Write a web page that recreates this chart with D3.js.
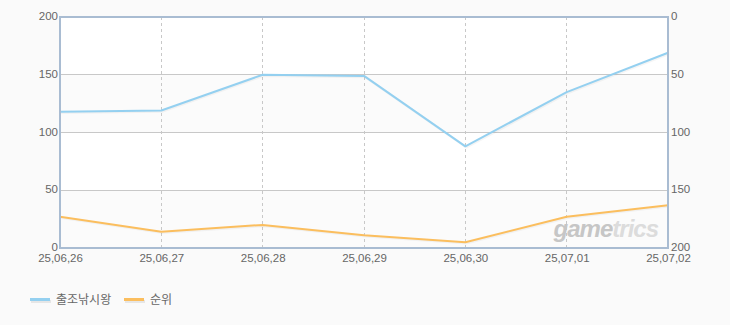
<!DOCTYPE html>
<html lang="ko">
<head>
<meta charset="utf-8">
<title>출조낚시왕 순위</title>
<script src="https://cdn.jsdelivr.net/npm/d3@7"></script>
<style>
  body { margin: 0; background: #fafafa; }
  svg text { font-family: "Liberation Sans", "Noto Sans CJK KR", sans-serif; }
</style>
</head>
<body>
<svg width="730" height="325"></svg>
<script>
  const dates = ["25,06,26", "25,06,27", "25,06,28", "25,06,29", "25,06,30", "25,07,01", "25,07,02"];
  const players = [118, 119, 150, 149, 88, 135, 169];
  const ranks = [173, 186, 180, 189, 195, 173, 163];
  const leftTicks = [0, 50, 100, 150, 200];
  const rightTicks = [0, 50, 100, 150, 200];
  const seriesNames = ["출조낚시왕", "순위"];
  const colors = ["#94d0f0", "#fbbe5e"];

  const svg = d3.select("svg");
  const plotL = 60, plotR = 668, plotT = 17, plotB = 248;

  const x = d3.scalePoint().domain(dates).range([plotL, plotR]);
  const yL = d3.scaleLinear().domain([0, 200]).range([plotB, plotT]);
  const yR = d3.scaleLinear().domain([0, 200]).range([plotT, plotB]);

  // background bands
  svg.append("rect")
    .attr("x", plotL).attr("y", plotT)
    .attr("width", plotR - plotL).attr("height", plotB - plotT)
    .attr("fill", "#ffffff");
  [[0, 50], [100, 150]].forEach(b => {
    svg.append("rect")
      .attr("x", plotL).attr("y", yL(b[1]))
      .attr("width", plotR - plotL).attr("height", yL(b[0]) - yL(b[1]))
      .attr("fill", "#fbfbfb");
  });

  // horizontal grid
  svg.selectAll(".hgrid")
    .data(leftTicks.slice(1, -1))
    .enter().append("line")
    .attr("x1", plotL).attr("x2", plotR)
    .attr("y1", d => yL(d)).attr("y2", d => yL(d))
    .attr("stroke", "#c8c8c8").attr("stroke-width", 1)
    .attr("shape-rendering", "crispEdges");

  // vertical dashed grid
  svg.selectAll(".vgrid")
    .data(dates.slice(1, -1))
    .enter().append("line")
    .attr("x1", d => x(d)).attr("x2", d => x(d))
    .attr("y1", plotT).attr("y2", plotB)
    .attr("stroke", "#c8c8c8").attr("stroke-dasharray", "3,3")
    .attr("shape-rendering", "crispEdges");

  // watermark
  const wm = svg.append("text")
    .attr("x", 658).attr("y", 237)
    .attr("text-anchor", "end")
    .attr("font-size", 24).attr("font-weight", "bold").attr("font-style", "italic")
    .attr("letter-spacing", -1)
    .style("font-family", "'Liberation Sans', sans-serif");
  wm.append("tspan").attr("fill", "#c6c6c6").text("game");
  wm.append("tspan").attr("fill", "#dcdcdc").text("trics");

  // lines
  const lineL = d3.line().x((d, i) => x(dates[i])).y(d => yL(d));
  const lineR = d3.line().x((d, i) => x(dates[i])).y(d => yR(d));

  [[players, lineL, colors[0]], [ranks, lineR, colors[1]]].forEach(s => {
    svg.append("path").datum(s[0])
      .attr("d", s[1])
      .attr("transform", "translate(1,1)")
      .attr("fill", "none").attr("stroke", "#000").attr("stroke-opacity", 0.04)
      .attr("stroke-width", 2.5);
    svg.append("path").datum(s[0])
      .attr("d", s[1])
      .attr("fill", "none").attr("stroke", s[2])
      .attr("stroke-width", 2).attr("stroke-linejoin", "round");
  });

  // frame
  svg.append("rect")
    .attr("x", plotL).attr("y", plotT)
    .attr("width", plotR - plotL).attr("height", plotB - plotT)
    .attr("fill", "none").attr("stroke", "#a9bcd2").attr("stroke-width", 2);

  // axes
  const axisText = g => {
    g.select(".domain").remove();
    g.selectAll(".tick line").remove();
    g.selectAll("text").attr("fill", "#666").attr("font-size", 11.5)
      .style("font-family", "'Liberation Sans', sans-serif");
  };

  svg.append("g")
    .attr("transform", `translate(${plotL - 2},-1)`)
    .call(d3.axisLeft(yL).tickValues(leftTicks).tickSize(0).tickPadding(0))
    .call(axisText);

  svg.append("g")
    .attr("transform", `translate(${plotR + 3},-1)`)
    .call(d3.axisRight(yR).tickValues(rightTicks).tickSize(0).tickPadding(0))
    .call(axisText);

  svg.append("g")
    .attr("transform", `translate(0,${plotB + 5})`)
    .call(d3.axisBottom(x).tickSize(0).tickPadding(1))
    .call(axisText);

  // legend
  const legendX = [30, 124];
  seriesNames.forEach((name, i) => {
    const g = svg.append("g").attr("transform", `translate(${legendX[i]},300)`);
    g.append("rect").attr("x", 1).attr("y", 0).attr("width", 20).attr("height", 3).attr("fill", "#e6e6e6");
    g.append("rect").attr("x", 0).attr("y", -2).attr("width", 20).attr("height", 3).attr("fill", colors[i]);
    g.append("text").attr("x", 26).attr("y", 4)
      .attr("font-size", 12).attr("fill", "#666")
      .style("font-family", "'Noto Sans CJK KR', sans-serif")
      .text(name);
  });
</script>
</body>
</html>
